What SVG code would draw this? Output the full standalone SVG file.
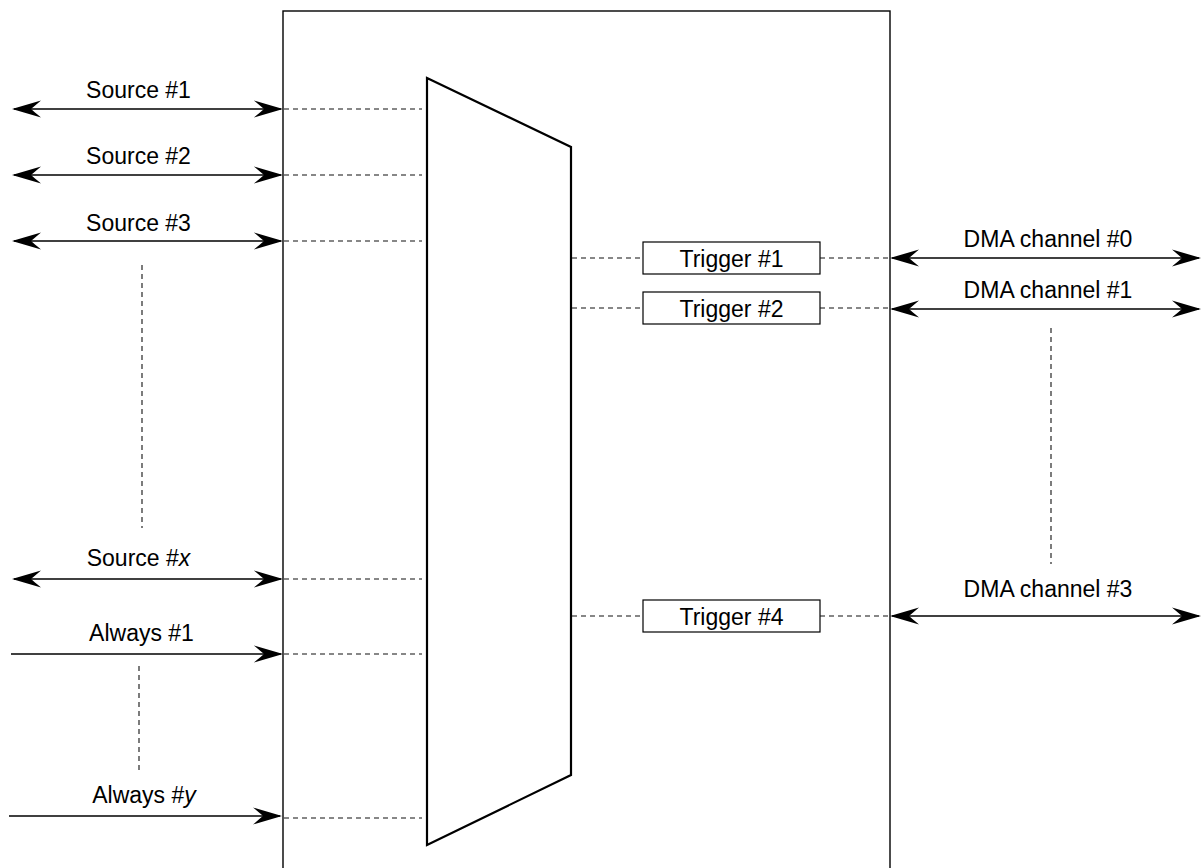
<svg xmlns="http://www.w3.org/2000/svg" width="1201" height="868" viewBox="0 0 1201 868">
<style>
text{font-family:"Liberation Sans",Arial,sans-serif;font-size:23px;fill:#000;text-anchor:middle}
.frame{fill:none;stroke:#000;stroke-width:1.4}
.mux{fill:none;stroke:#000;stroke-width:2.2;stroke-linejoin:miter}
.arrow{fill:none;stroke:#000;stroke-width:1.6}
.dash{fill:none;stroke:#111;stroke-width:1.1;stroke-dasharray:5 4}
.trig{fill:#fff;stroke:#000;stroke-width:1.2}
</style>
<defs>
<marker id="ah" viewBox="-31 -10 34 20" refX="-2" refY="0" markerWidth="34" markerHeight="20" markerUnits="userSpaceOnUse" orient="auto-start-reverse">
<path d="M0,0 L-29,-8.5 Q-22,-2.5 -19,0 Q-22,2.5 -29,8.5 Z" fill="#000"/>
</marker>
</defs>
<g id="frame"><rect class="frame" x="283" y="11" width="607" height="880"/></g>
<g id="mux"><polygon class="mux" points="427,78 571,147 571,775 427,845"/></g>
<g id="trigger1"><rect class="trig" x="643" y="242" width="177" height="32"/><text x="731.5" y="266.5">Trigger #1</text></g>
<g id="trigger2"><rect class="trig" x="643" y="292" width="177" height="32"/><text x="731.5" y="316.5">Trigger #2</text></g>
<g id="trigger4"><rect class="trig" x="643" y="600" width="177" height="32"/><text x="731.5" y="624.5">Trigger #4</text></g>
<g id="labels">
<text x="138.5" y="98">Source #1</text>
<text x="138.5" y="164">Source #2</text>
<text x="138.5" y="231">Source #3</text>
<text x="138.5" y="566">Source #<tspan font-style="italic">x</tspan></text>
<text x="141.5" y="641">Always #1</text>
<text x="144" y="803">Always #<tspan font-style="italic">y</tspan></text>
<text x="1048" y="247">DMA channel #0</text>
<text x="1048" y="298">DMA channel #1</text>
<text x="1048" y="597">DMA channel #3</text>
</g>
<g id="connectors">
<line class="arrow" x1="14" y1="109" x2="281" y2="109" marker-start="url(#ah)" marker-end="url(#ah)"/>
<line class="arrow" x1="14" y1="175" x2="281" y2="175" marker-start="url(#ah)" marker-end="url(#ah)"/>
<line class="arrow" x1="14" y1="241" x2="281" y2="241" marker-start="url(#ah)" marker-end="url(#ah)"/>
<line class="arrow" x1="14" y1="579" x2="281" y2="579" marker-start="url(#ah)" marker-end="url(#ah)"/>
<line class="arrow" x1="11" y1="654" x2="281" y2="654" marker-end="url(#ah)"/>
<line class="arrow" x1="9" y1="816" x2="280" y2="816" marker-end="url(#ah)"/>
<line class="arrow" x1="892" y1="258" x2="1199" y2="258" marker-start="url(#ah)" marker-end="url(#ah)"/>
<line class="arrow" x1="892" y1="309" x2="1199" y2="309" marker-start="url(#ah)" marker-end="url(#ah)"/>
<line class="arrow" x1="892" y1="616" x2="1199" y2="616" marker-start="url(#ah)" marker-end="url(#ah)"/>
<line class="dash" x1="284" y1="109" x2="422" y2="109"/>
<line class="dash" x1="284" y1="175" x2="422" y2="175"/>
<line class="dash" x1="284" y1="241" x2="422" y2="241"/>
<line class="dash" x1="284" y1="579" x2="422" y2="579"/>
<line class="dash" x1="284" y1="654" x2="422" y2="654"/>
<line class="dash" x1="284" y1="818" x2="422" y2="818"/>
<line class="dash" x1="572" y1="258" x2="643" y2="258"/>
<line class="dash" x1="572" y1="308" x2="643" y2="308"/>
<line class="dash" x1="572" y1="616" x2="643" y2="616"/>
<line class="dash" x1="820" y1="258" x2="889" y2="258"/>
<line class="dash" x1="820" y1="308" x2="889" y2="308"/>
<line class="dash" x1="820" y1="616" x2="889" y2="616"/>
<line class="dash" x1="142" y1="265" x2="142" y2="528"/>
<line class="dash" x1="139" y1="666" x2="139" y2="774"/>
<line class="dash" x1="1051" y1="328" x2="1051" y2="564"/>
</g>
</svg>
